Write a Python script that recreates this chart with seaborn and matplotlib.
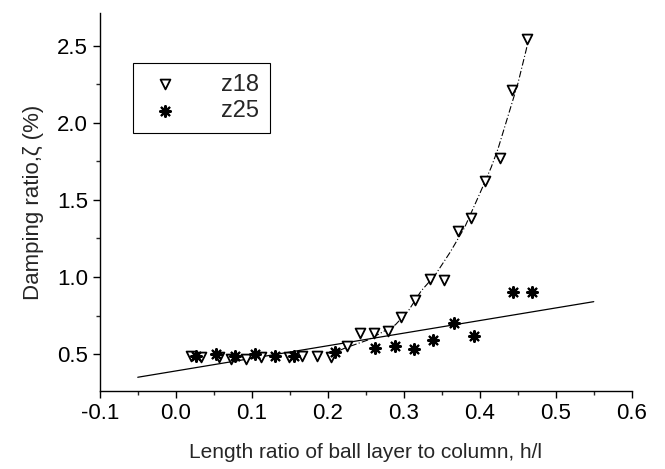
import numpy as np
import pandas as pd
import matplotlib
matplotlib.use("Agg")
import matplotlib.pyplot as plt
import seaborn as sns
from matplotlib.ticker import MultipleLocator, FormatStrFormatter

# measured points, sample z18
z18_x = [0.020, 0.033, 0.057, 0.073, 0.092, 0.112, 0.149, 0.166, 0.186, 0.204,
         0.225, 0.242, 0.261, 0.279, 0.297, 0.315, 0.335, 0.353, 0.372, 0.389,
         0.407, 0.426, 0.443, 0.462]
z18_y = [0.49, 0.48, 0.48, 0.47, 0.47, 0.48, 0.48, 0.49, 0.49, 0.48,
         0.55, 0.64, 0.64, 0.65, 0.74, 0.85, 0.99, 0.98, 1.30, 1.38,
         1.62, 1.77, 2.21, 2.54]

# sample z25
z25_x = [0.027, 0.053, 0.078, 0.104, 0.131, 0.156, 0.210, 0.262, 0.288, 0.314,
         0.339, 0.366, 0.393, 0.444, 0.469]
z25_y = [0.49, 0.50, 0.49, 0.50, 0.49, 0.49, 0.515, 0.54, 0.55, 0.53,
         0.59, 0.70, 0.62, 0.90, 0.90]

# fitted curves
curve18_x = [0.200, 0.223, 0.252, 0.271, 0.289, 0.306, 0.323, 0.341, 0.361,
             0.380, 0.400, 0.415, 0.424, 0.450, 0.461, 0.466]
curve18_y = [0.49, 0.54, 0.59, 0.64, 0.69, 0.78, 0.91, 1.01, 1.16,
             1.32, 1.54, 1.71, 1.83, 2.25, 2.47, 2.58]
line25_x = [-0.05, 0.55]
line25_y = [0.35, 0.84]

sns.set_style("ticks")
plt.rcParams['font.family'] = ['Liberation Sans', 'DejaVu Sans']

fig = plt.figure(figsize=(6.65, 4.69), dpi=100)
ax = fig.add_axes([0.150, 0.166, 0.800, 0.806])

sns.lineplot(x=line25_x, y=line25_y, ax=ax, color='black', lw=0.9)
sns.lineplot(x=curve18_x, y=curve18_y, ax=ax, color='black', lw=0.8,
             linestyle=(0, (6, 2, 1, 2)))

sns.scatterplot(x=z18_x, y=z18_y, ax=ax, marker='v', s=50,
                facecolor='white', edgecolor='black', linewidth=1.3, label='z18', zorder=3)
sns.scatterplot(x=z25_x, y=z25_y, ax=ax, marker=(8, 2, 0), s=60,
                color='black', linewidth=1.6, label='z25', zorder=3)

ax.set_xlim(-0.1, 0.6)
ax.set_ylim(0.26, 2.71)
ax.xaxis.set_major_locator(MultipleLocator(0.1))
ax.xaxis.set_minor_locator(MultipleLocator(0.05))
ax.yaxis.set_major_locator(MultipleLocator(0.5))
ax.yaxis.set_minor_locator(MultipleLocator(0.25))
ax.xaxis.set_major_formatter(FormatStrFormatter('%.1f'))
ax.yaxis.set_major_formatter(FormatStrFormatter('%.1f'))
ax.tick_params(which='major', direction='out', length=5, width=1, labelsize=16, colors='black')
ax.tick_params(which='minor', direction='out', length=3, width=1)
sns.despine(ax=ax)
for s in ['left', 'bottom']:
    ax.spines[s].set_color('black')
    ax.spines[s].set_linewidth(1)

ax.set_xlabel('Length ratio of ball layer to column, h/l', fontsize=15, labelpad=14)
ax.set_ylabel('Damping ratio,ζ (%)', fontsize=16, labelpad=9)

leg = ax.legend(loc='upper left', bbox_to_anchor=(0.062, 0.868), fontsize=17,
                frameon=True, fancybox=False, edgecolor='black', framealpha=1,
                handletextpad=1.5, borderpad=0.45, labelspacing=0.2,
                handlelength=1.8, borderaxespad=0)
leg.get_frame().set_linewidth(0.8)

fig.savefig('out.png', dpi=100)
